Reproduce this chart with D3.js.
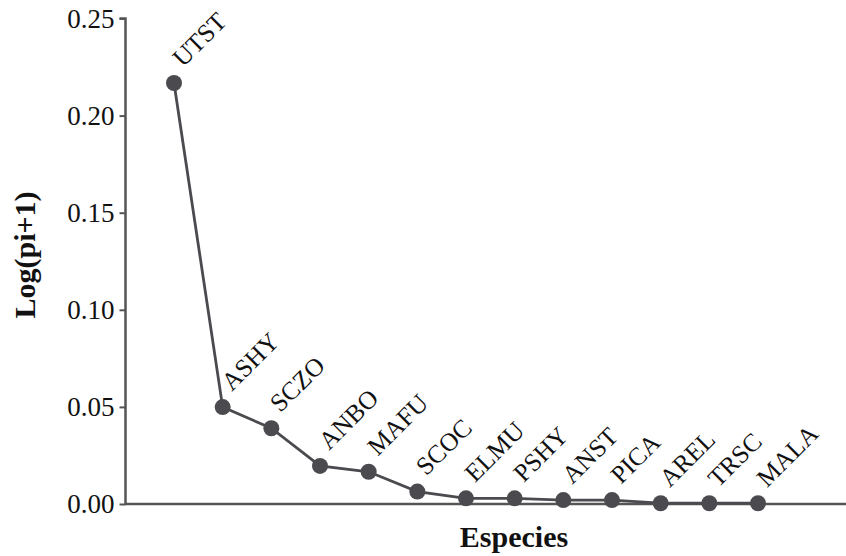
<!DOCTYPE html>
<html><head><meta charset="utf-8">
<script src="https://cdn.jsdelivr.net/npm/d3@7"></script>
<style>body{margin:0;background:#fff}svg{display:block}</style>
</head><body>
<script>
const categories = ["UTST","ASHY","SCZO","ANBO","MAFU","SCOC","ELMU","PSHY","ANST","PICA","AREL","TRSC","MALA"];
const values = [0.2168,0.0499,0.0390,0.0196,0.0166,0.0064,0.0029,0.0029,0.0020,0.0020,0.0004,0.0004,0.0004];
const yTicks = [0,0.05,0.10,0.15,0.20,0.25];

const W=846,H=556;
const svg=d3.select("body").append("svg").attr("width",W).attr("height",H);
const font="'Liberation Serif','Times New Roman',serif";
const y=d3.scaleLinear().domain([0,0.25]).range([504,18.5]);
const x=d3.scalePoint().domain(categories).range([174,758]);
const axisCol="#555";
const markCol="#4a4a4f";

// y axis
const ya=svg.append("g").attr("transform","translate(125.5,0)")
  .call(d3.axisLeft(y).tickValues(yTicks).tickFormat(d3.format(".2f")).tickSize(6).tickPadding(5));
ya.select(".domain").attr("stroke",axisCol).attr("stroke-width",2.5).attr("d","M-6,"+y(0.25)+"H0V"+y(0));
ya.selectAll(".tick line").attr("stroke",axisCol).attr("stroke-width",2);
ya.selectAll(".tick text").attr("font-family",font).attr("font-size",27).attr("fill","#111");

// x axis line
svg.append("line").attr("x1",125).attr("x2",846).attr("y1",y(0)).attr("y2",y(0))
  .attr("stroke",axisCol).attr("stroke-width",2.5);

// line
const data=categories.map((c,i)=>({c,v:values[i]}));
svg.append("path").datum(data)
  .attr("d",d3.line().x(d=>x(d.c)).y(d=>y(d.v)))
  .attr("fill","none").attr("stroke",markCol).attr("stroke-width",2.8);
svg.selectAll("circle.pt").data(data).join("circle").attr("class","pt")
  .attr("cx",d=>x(d.c)).attr("cy",d=>y(d.v)).attr("r",8).attr("fill",markCol);

// labels
svg.selectAll("text.lab").data(data).join("text").attr("class","lab")
  .attr("transform",d=>`translate(${x(d.c)+9},${y(d.v)-15}) rotate(-45)`)
  .attr("font-family",font).attr("font-size",25.5).attr("fill","#111")
  .text(d=>d.c);

// titles
svg.append("text").attr("x",514).attr("y",547).attr("text-anchor","middle")
  .attr("font-family",font).attr("font-weight","bold").attr("font-size",30).attr("fill","#111")
  .text("Especies");
svg.append("text").attr("transform","translate(35,255) rotate(-90)").attr("text-anchor","middle")
  .attr("font-family",font).attr("font-weight","bold").attr("font-size",30).attr("fill","#111")
  .text("Log(pi+1)");
</script>
</body></html>
